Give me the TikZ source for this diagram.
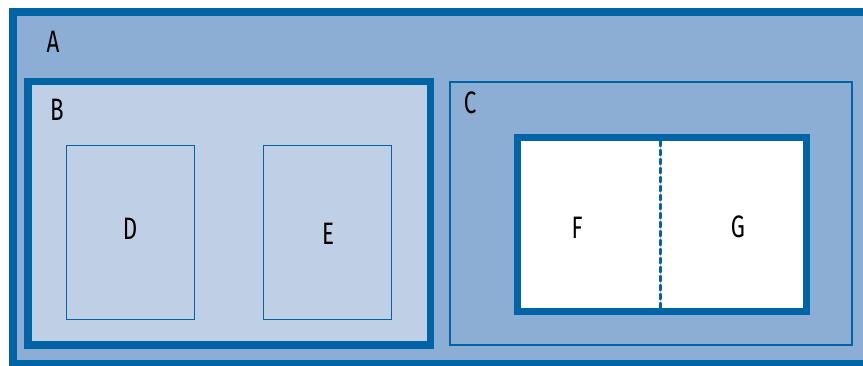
\documentclass[tikz,border=0pt]{standalone}
\usepackage{fontspec}
\setmainfont[FakeStretch=0.72]{Fira Sans}
\definecolor{bord}{HTML}{0064A6}
\definecolor{fillA}{HTML}{8CAED4}
\definecolor{fillB}{HTML}{BFD0E6}
\tikzset{
  thickbox/.style={draw=bord, line width=7.5pt, inner sep=0pt},
  thinbox/.style={draw=bord, line width=1.8pt, inner sep=0pt},
  lbl/.style={font=\fontsize{31}{33}\selectfont, inner sep=0pt, text=black},
}
\begin{document}
\begin{tikzpicture}[x=1pt,y=-1pt]
\useasboundingbox (0,0) rectangle (863,365);
% A
\node[thickbox, fill=fillA, minimum width=854pt, minimum height=352pt] (boxA) at (440,188) {};
\node[lbl] (labA) at (53,42) {A};
% B
\node[thickbox, fill=fillB, minimum width=402.5pt, minimum height=263.5pt] (boxB) at (229.25,213.25) {};
\node[lbl] (labB) at (57,110) {B};
% C
\node[thinbox, fill=fillA, minimum width=402pt, minimum height=263pt] (boxC) at (651,213.5) {};
\node[lbl] (labC) at (470,103) {C};
% D, E
\node[thinbox, fill=fillB, minimum width=128pt, minimum height=174pt] (boxD) at (130.5,232.5) {};
\node[lbl] (labD) at (130,229) {D};
\node[thinbox, fill=fillB, minimum width=128pt, minimum height=174pt] (boxE) at (327.5,232.5) {};
\node[lbl] (labE) at (328,234) {E};
% F/G
\node[draw=bord, line width=7pt, fill=white, inner sep=0pt, minimum width=288.5pt, minimum height=174pt] (boxFG) at (661.75,224.5) {};
\coordinate (dtop) at (660,141);
\coordinate (dbot) at (660,308);
\draw[bord, line width=3pt, line cap=round, dash pattern=on 5pt off 4pt] (dtop) -- (dbot);
\node[lbl] (labF) at (577,228) {F};
\node[lbl] (labG) at (738,227) {G};
\end{tikzpicture}
\end{document}
